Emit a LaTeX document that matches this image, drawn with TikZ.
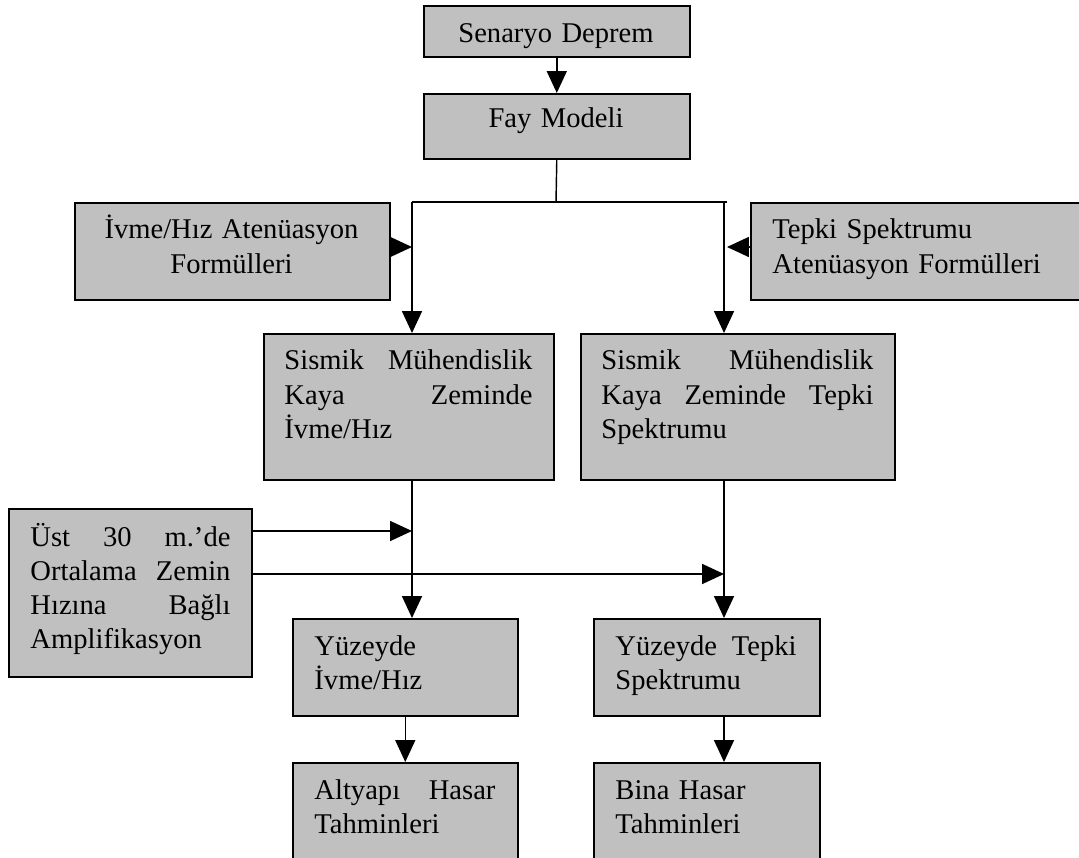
\documentclass[tikz,border=0pt]{standalone}
\usepackage{fontspec}
\setmainfont{Liberation Serif}
\usetikzlibrary{arrows.meta,calc}
\newdimen\pxu \pxu=0.42pt
\definecolor{boxgray}{HTML}{C0C0C0}
\tikzset{
  box/.style={draw=black, fill=boxgray, line width=0.65pt, rectangle, inner sep=0pt, anchor=north west},
  txt/.style={inner sep=0pt, font=\fontsize{12}{14.3}\selectfont, align=left, anchor=base west},
  ctxt/.style={inner sep=0pt, font=\fontsize{12}{14.3}\selectfont, align=center, anchor=base, text width=300\pxu},
  arr/.style={line width=0.6pt, -{Triangle[length=9.2pt,width=8.4pt]}},
  ln/.style={line width=0.6pt}
}
\begin{document}
\begin{tikzpicture}[x=0.42pt,y=-0.42pt]
\useasboundingbox (0,0) rectangle (1079,857);
\clip (0,0) rectangle (1079,857);
% boxes
\node[box, minimum width=266\pxu, minimum height=51\pxu] (sen) at (423,5) {};
\node[box, minimum width=266\pxu, minimum height=65\pxu] (fay) at (423,93) {};
\node[box, minimum width=315\pxu, minimum height=97\pxu] (ivme) at (74,202) {};
\node[box, minimum width=340\pxu, minimum height=97\pxu] (tepki) at (750,202) {};
\node[box, minimum width=290\pxu, minimum height=146\pxu] (sis1) at (263,333) {};
\node[box, minimum width=314\pxu, minimum height=146\pxu] (sis2) at (580,333) {};
\node[box, minimum width=243\pxu, minimum height=168\pxu] (ust) at (8,508) {};
\node[box, minimum width=225\pxu, minimum height=97\pxu] (yuz1) at (292,618) {};
\node[box, minimum width=226\pxu, minimum height=97\pxu] (yuz2) at (593,618) {};
\node[box, minimum width=225\pxu, minimum height=130\pxu] (alt) at (292,762) {};
\node[box, minimum width=226\pxu, minimum height=130\pxu] (bina) at (593,762) {};
% texts
\node[ctxt] (sent) at (556,43) {Senaryo Deprem};
\node[ctxt] (fayt) at (556,128) {Fay Modeli};
\node[ctxt] (ivmet) at (231.5,239) {İvme/Hız Atenüasyon\\Formülleri};
\node[txt, text width=300\pxu] (tepkit) at (772,239) {Tepki Spektrumu\\Atenüasyon Formülleri};
\node[txt, text width=248\pxu] (sis1t) at (284,370) {Sismik\hfill Mühendislik\\Kaya\hfill Zeminde\\İvme/Hız};
\node[txt, text width=272\pxu] (sis2t) at (601,370) {Sismik\hfill Mühendislik\\Kaya\hfill Zeminde\hfill Tepki\\Spektrumu};
\node[txt, text width=200\pxu] (ustt) at (30,546) {Üst\hfill 30\hfill m.’de\\Ortalama\hfill Zemin\\Hızına\hfill Bağlı\\Amplifikasyon};
\node[txt, text width=181\pxu] (yuz1t) at (314,655) {Yüzeyde\\İvme/Hız};
\node[txt, text width=181\pxu] (yuz2t) at (615,655) {Yüzeyde\hfill Tepki\\Spektrumu};
\node[txt, text width=181\pxu] (altt) at (314,799) {Altyapı\hfill Hasar\\Tahminleri};
\node[txt, text width=181\pxu] (binat) at (615,799) {Bina Hasar\\Tahminleri};
% junction coordinates
\coordinate (j) at (556,202);
\coordinate (hl) at (412,202);
\coordinate (vr) at (724,202);
\coordinate (hr) at (727,202);
% connectors
\draw[arr] (sen.south) -- (fay.north);
\draw[ln] (fay.south) -- (j);
\draw[ln] (hl) -- (hr);
\draw[arr] (hl) -- (hl |- sis1.north);
\draw[arr] (vr) -- (vr |- sis2.north);
\draw[arr] ($(ivme.north east)+(0,45)$) -- ($(ivme.north east -| hl)+(0,45)$);
\draw[arr] ($(tepki.north west)+(0,45)$) -- ($(tepki.north west -| hr)+(0,45)$);
\draw[arr] (sis1.south -| hl) -- (yuz1.north -| hl);
\draw[arr] (sis2.south -| vr) -- (yuz2.north -| vr);
\draw[arr] ($(ust.north east)+(0,23)$) -- ($(ust.north east -| hl)+(0,23)$);
\draw[arr] ($(ust.north east)+(0,66)$) -- ($(ust.north east -| vr)+(0,66)$);
\draw[arr] (yuz1.south) -- (alt.north);
\draw[arr] (yuz2.south -| vr) -- (bina.north -| vr);
\end{tikzpicture}
\end{document}
